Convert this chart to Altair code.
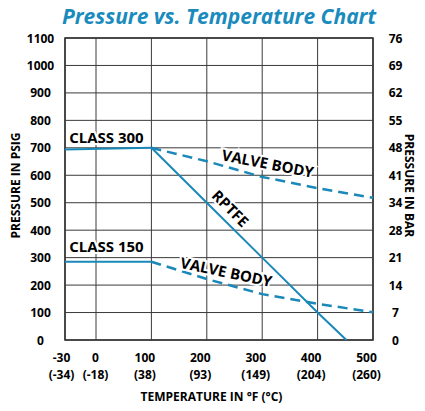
import json
import altair as alt
import pandas as pd

# ---- data ----
temps_f = [-30, 0, 100, 200, 300, 400, 500]
temps_f_labels = ["-30", "0", "100", "200", "300", "400", "500"]
temps_c_labels = ["(-34)", "(-18)", "(38)", "(93)", "(149)", "(204)", "(260)"]
psig_ticks = [0, 100, 200, 300, 400, 500, 600, 700, 800, 900, 1000, 1100]
bar_labels = ["0", "7", "14", "21", "28", "34", "41", "48", "55", "62", "69", "76"]

class300_x = [-30, 100]
class300_y = [694, 700]
class300_body_x = [100, 200, 300, 400, 500]
class300_body_y = [700, 651, 594, 553, 518]
rptfe_x = [100, 200, 300, 400, 452]
rptfe_y = [700, 500, 300, 100, 0]
class150_x = [-30, 100]
class150_y = [285, 285]
class150_body_x = [100, 200, 300, 400, 500]
class150_body_y = [285, 222, 167, 132, 101]

label_text = ["CLASS 300", "CLASS 150", "VALVE BODY", "VALVE BODY", "RPTFE"]
label_x = [-26, -26, 310, 235, 242]
label_y = [737, 339, 641, 246, 478]
label_angle = [0, 0, 11, 12, 45]
label_align = ["left", "left", "center", "center", "center"]

BLUE = "#1a88b8"
FONT = "Open Sans"

def series(name, xs, ys, style):
    return pd.DataFrame({"series": name, "temp": xs, "psig": ys,
                         "order": range(len(xs)), "style": style})

lines = pd.concat([
    series("Class 300", class300_x, class300_y, "solid"),
    series("Class 300 valve body", class300_body_x, class300_body_y, "dashed"),
    series("RPTFE", rptfe_x, rptfe_y, "solid"),
    series("Class 150", class150_x, class150_y, "solid"),
    series("Class 150 valve body", class150_body_x, class150_body_y, "dashed"),
], ignore_index=True)

labels = pd.DataFrame({"text": label_text, "temp": label_x, "psig": label_y,
                       "angle": label_angle, "align": label_align})
xgrid = pd.DataFrame({"temp": temps_f})
ygrid = pd.DataFrame({"psig": psig_ticks})

x_scale = alt.Scale(domain=[-30, 0, 500], range=[0, 31, 308])
y_scale = alt.Scale(domain=[0, 1100], nice=False, zero=False)

F_ARR = json.dumps(temps_f)
f_label_expr = f"{json.dumps(temps_f_labels)}[indexof({F_ARR}, datum.value)]"
c_label_expr = f"{json.dumps(temps_c_labels)}[indexof({F_ARR}, datum.value)]"
bar_label_expr = f"{json.dumps(bar_labels)}[indexof({json.dumps(psig_ticks)}, datum.value)]"

label_shift = {"condition": [{"test": "datum.value < 0", "value": -4},
                             {"test": "datum.value == 0", "value": -1}],
               "value": -7}

x_axis_f = alt.Axis(
    orient="bottom", values=temps_f, labelExpr=f_label_expr, grid=False, ticks=False,
    domain=False, labelPadding=17, labelBaseline="middle", labelOffset=label_shift,
    labelFlush=False, labelOverlap=False, title=None,
)
x_axis_c = alt.Axis(
    orient="bottom", values=temps_f, labelExpr=c_label_expr, grid=False, ticks=False,
    domain=False, labelPadding=34.5, labelBaseline="middle", labelOffset=label_shift,
    labelFlush=False, labelOverlap=False,
    title="TEMPERATURE IN °F (°C)", titleX=146, titleY=56.5,
    titleBaseline="middle", titleAlign="center",
)
y_axis_left = alt.Axis(
    values=psig_ticks, format="d", grid=False, ticks=False, domain=False,
    labelAlign="center", labelPadding=25, labelFlush=False, labelOverlap=False,
    title="PRESSURE IN PSIG", titleAngle=270, titleX=-50, titleY=147,
    titleAlign="center", titleBaseline="middle",
)
y_axis_right = alt.Axis(
    orient="right", values=psig_ticks, labelExpr=bar_label_expr, grid=False,
    ticks=False, domain=False, labelAlign="center", labelPadding=22,
    labelFlush=False, labelOverlap=False,
    title="PRESSURE IN BAR", titleAngle=90, titleX=35, titleY=147,
    titleAlign="center", titleBaseline="middle",
)

GRID = "#3a3a3a"

vgrid = alt.Chart(xgrid).mark_rule(color=GRID, strokeWidth=1).encode(
    x=alt.X("temp:Q", scale=x_scale, axis=x_axis_f),
)
hgrid = alt.Chart(ygrid).mark_rule(color=GRID, strokeWidth=1).encode(
    y=alt.Y("psig:Q", scale=y_scale, axis=y_axis_left),
)

solid = alt.Chart(lines).transform_filter("datum.style == 'solid'").mark_line(
    color=BLUE, strokeWidth=2
).encode(
    x=alt.X("temp:Q", scale=x_scale, axis=x_axis_c),
    y=alt.Y("psig:Q", scale=y_scale, axis=None),
    detail="series:N",
    order="order:Q",
)

dashed = alt.Chart(lines).transform_filter("datum.style == 'dashed'").mark_line(
    color=BLUE, strokeWidth=2.5, strokeDash=[10, 6]
).encode(
    x=alt.X("temp:Q", scale=x_scale, axis=None),
    y=alt.Y("psig:Q", scale=y_scale, axis=y_axis_right),
    detail="series:N",
    order="order:Q",
)


def text_layer(align, halo):
    style = dict(font=FONT, fontSize=15, fontWeight="bold", baseline="middle", align=align)
    if halo:
        style.update(stroke="white", strokeWidth=4, color="white")
    else:
        style.update(color="black")
    return alt.Chart(labels).transform_filter(f"datum.align == '{align}'").mark_text(**style).encode(
        x=alt.X("temp:Q", scale=x_scale, axis=None),
        y=alt.Y("psig:Q", scale=y_scale, axis=None),
        text="text:N",
        angle=alt.Angle("angle:Q", scale=None),
    )


chart = alt.layer(
    vgrid, hgrid, solid, dashed,
    text_layer("left", True), text_layer("center", True),
    text_layer("left", False), text_layer("center", False),
).resolve_axis(
    x="independent", y="independent"
).properties(
    width=308, height=302,
    autosize=alt.AutoSizeParams(type="none"),
    padding={"left": 57, "top": 30, "right": 44, "bottom": 63},
    title=alt.TitleParams(
        "Pressure vs. Temperature Chart", font=FONT, fontSize=21,
        fontStyle="italic", fontWeight="bold", color="#1a8bbd",
        anchor="middle", frame="group", offset=4,
    ),
).configure_view(
    stroke="#222", strokeWidth=1.5
).configure_axis(
    labelFont=FONT, labelFontSize=12, labelFontWeight="bold", labelColor="black",
    titleFont=FONT, titleFontSize=12, titleFontWeight="bold", titleColor="black",
)

chart.save("out.html", embed_options={"renderer": "svg", "actions": False})
